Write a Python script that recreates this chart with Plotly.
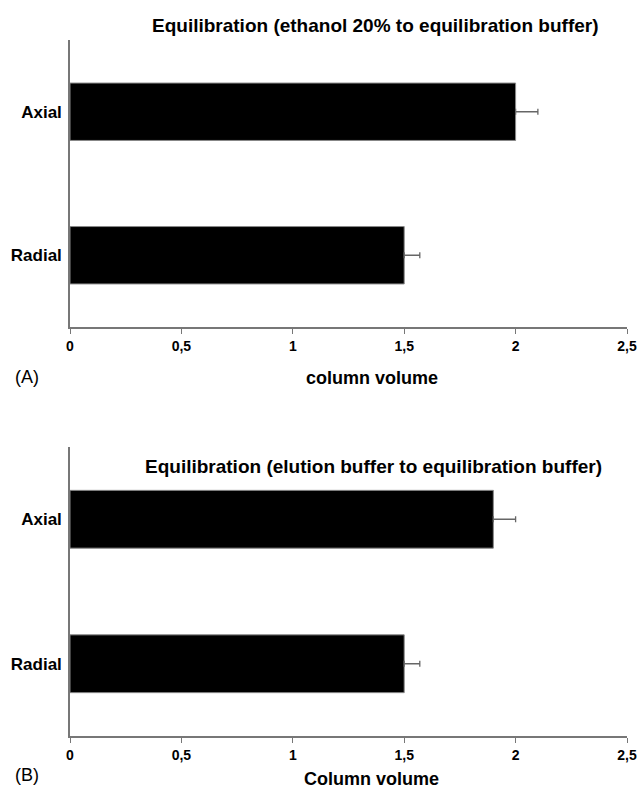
import plotly.graph_objects as go
from plotly.subplots import make_subplots

categories = ["Radial", "Axial"]
values_a = [1.5, 2.0]
errors_a = [0.07, 0.1]
values_b = [1.5, 1.9]
errors_b = [0.07, 0.1]
tick_vals = [0, 0.5, 1, 1.5, 2, 2.5]
tick_text = ["0", "0,5", "1", "1,5", "2", "2,5"]

W, H = 642, 791
FONT = "Liberation Sans, Arial, sans-serif"

def px(X):
    return X / W

def py(Y):
    return 1 - Y / H

fig = make_subplots(rows=2, cols=1)

for row, vals, errs in [(1, values_a, errors_a), (2, values_b, errors_b)]:
    fig.add_trace(go.Bar(
        y=categories, x=vals, orientation="h", width=0.4,
        marker=dict(color="black", line=dict(color="#888888", width=1)),
        error_x=dict(type="data", array=errs, arrayminus=[0] * len(errs),
                     visible=True, color="#666666", thickness=1.3, width=3),
        showlegend=False,
    ), row=row, col=1)

xd = [px(70), px(627)]
fig.update_layout(
    template="none",
    width=W, height=H, plot_bgcolor="white", paper_bgcolor="white",
    margin=dict(l=0, r=0, t=0, b=0, pad=0),
    font=dict(family=FONT, color="black"),
    xaxis=dict(domain=xd, anchor="y"),
    xaxis2=dict(domain=xd, anchor="y2"),
    yaxis=dict(domain=[py(327), py(40)], anchor="x"),
    yaxis2=dict(domain=[py(736), py(447)], anchor="x2"),
)

for r in (1, 2):
    fig.update_xaxes(range=[0, 2.5], tickvals=tick_vals, ticktext=tick_text,
                     automargin=False, ticklabeloverflow="allow",
                     showline=True, linecolor="#777777", linewidth=1.5,
                     ticks="outside", ticklen=5, tickcolor="#777777",
                     showgrid=False, zeroline=False,
                     tickfont=dict(size=14, family=FONT, color="black", weight="bold"),
                     row=r, col=1)
    fig.update_yaxes(range=[-0.5, 1.5], automargin=False,
                     showline=True, linecolor="#777777",
                     linewidth=1.5, ticks="", showgrid=False, zeroline=False,
                     tickfont=dict(size=17, family=FONT, color="black", weight="bold"),
                     ticklabelstandoff=3,
                     row=r, col=1)

def ann(text, x, y, size, bold=True):
    fig.add_annotation(text=text, x=px(x), y=py(y), xref="paper", yref="paper",
                       showarrow=False, xanchor="center", yanchor="middle",
                       font=dict(size=size, family=FONT, color="black",
                                 weight="bold" if bold else "normal"))

ann("Equilibration (ethanol 20% to equilibration buffer)", 375, 25, 19)
ann("column volume", 372, 378, 18)
ann("(A)", 27, 377, 18, bold=False)
ann("Equilibration (elution buffer to equilibration buffer)", 374, 466, 19)
ann("Column volume", 372, 779, 18)
ann("(B)", 27, 775, 18, bold=False)

fig.write_html(
    "out.html",
    config={"displayModeBar": False},
    post_script="document.body.style.margin='0';document.body.style.overflow='hidden';",
)
